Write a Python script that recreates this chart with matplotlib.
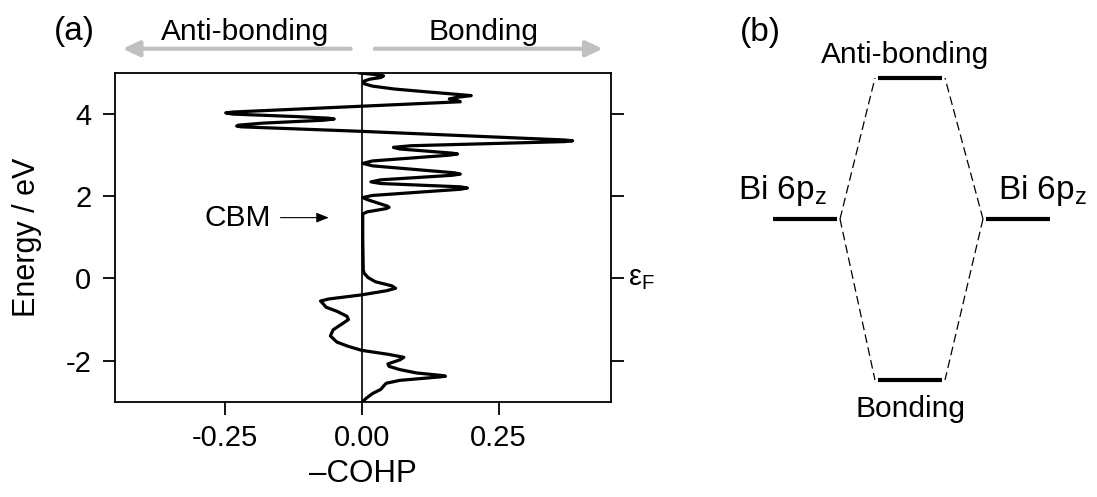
import numpy as np
import matplotlib.pyplot as plt

plt.rcParams['font.family'] = ['Liberation Sans', 'DejaVu Sans']
plt.rcParams['mathtext.fontset'] = 'custom'
plt.rcParams['mathtext.rm'] = 'Liberation Sans'
plt.rcParams['axes.unicode_minus'] = False

# -COHP of the Bi-Bi pz interaction, read top to bottom
energy = [5.00, 4.97, 4.93, 4.89, 4.85, 4.80, 4.74, 4.68, 4.61, 4.54, 4.49, 4.45,
          4.41, 4.37, 4.33, 4.30, 4.05, 4.03, 4.00, 3.94, 3.90, 3.88, 3.85, 3.78,
          3.73, 3.71, 3.69, 3.58, 3.37, 3.35, 3.33, 3.23, 3.19, 3.15, 3.05, 3.03,
          3.00, 2.86, 2.80, 2.74, 2.57, 2.54, 2.51, 2.40, 2.35, 2.31, 2.23, 2.20,
          2.17, 2.02, 1.97, 1.92, 1.76, 1.73, 1.70, 1.62, 1.57, 1.00, 0.20, 0.12,
          0.02, -0.08, -0.18, -0.24, -0.30, -0.40, -0.50, -0.55, -0.62, -0.70,
          -0.80, -0.92, -1.00, -1.10, -1.25, -1.40, -1.55, -1.65, -1.75, -1.85,
          -1.92, -1.98, -2.08, -2.14, -2.22, -2.30, -2.36, -2.38, -2.40, -2.48,
          -2.55, -2.62, -2.70, -2.80, -2.92, -3.00]
cohp = [-0.004, 0.020, 0.040, 0.035, 0.015, 0.004, 0.004, 0.020, 0.060, 0.120, 0.165, 0.200,
        0.175, 0.160, 0.175, 0.180, -0.235, -0.248, -0.235, -0.120, -0.060, -0.050, -0.070, -0.180,
        -0.225, -0.228, -0.220, 0.000, 0.370, 0.385, 0.370, 0.090, 0.058, 0.070, 0.165, 0.175,
        0.160, 0.020, 0.002, 0.020, 0.170, 0.180, 0.165, 0.035, 0.017, 0.035, 0.180, 0.193,
        0.180, 0.020, 0.002, 0.010, 0.047, 0.050, 0.045, 0.010, 0.002, 0.002, 0.003, 0.005,
        0.012, 0.025, 0.055, 0.062, 0.045, 0.000, -0.060, -0.075, -0.070, -0.065,
        -0.045, -0.027, -0.024, -0.035, -0.052, -0.057, -0.045, -0.025, 0.000, 0.050,
        0.077, 0.070, 0.048, 0.050, 0.070, 0.100, 0.145, 0.153, 0.140, 0.070,
        0.045, 0.040, 0.035, 0.020, 0.008, 0.002]

xticks = [-0.25, 0.0, 0.25]
xtick_labels = ['-0.25', '0.00', '0.25']
yticks = [-2, 0, 2, 4]
cbm_energy = 1.48

# MO diagram (b): left AO, right AO, anti-bonding MO, bonding MO
level_x0 = [773, 986, 878, 878]
level_x1 = [837, 1050, 942, 942]
level_y = [219, 219, 78, 380]
# dashed connectors: (from level, to level)
links = [(0, 2), (0, 3), (1, 2), (1, 3)]

fig = plt.figure(figsize=(10.97, 4.97), dpi=100)

######################################
# (a) COHP
ax = fig.add_axes([115/1097, 1 - 401.7/497, 496/1097, 328.7/497])
ax.axvline(0, color='k', lw=1.2, zorder=1)
ax.plot(cohp, energy, color='k', lw=2.3, solid_joinstyle='round', zorder=2)
ax.set_xlim(-0.45, 0.455)
ax.set_ylim(-3, 5)
ax.set_xticks(xticks)
ax.set_xticklabels(xtick_labels)
ax.set_yticks(yticks)
ax.tick_params(axis='y', left=True, right=True, direction='out', length=9, width=1.3,
               labelsize=21, pad=8)
ax.tick_params(axis='x', top=False, direction='out', length=9, width=1.3, labelsize=21, pad=7)
for s in ax.spines.values():
    s.set_linewidth(1.3)
ax.set_ylabel('Energy / eV', fontsize=22)
ax.yaxis.set_label_coords(-0.147, 0.5)
ax.set_xlabel('\u2013COHP', fontsize=22.5)
ax.xaxis.set_label_coords(0.5, -0.175)

ax.text(1.035, 0, '\u03b5$_\\mathregular{F}$', transform=ax.get_yaxis_transform(),
        fontsize=21, ha='left', va='center', clip_on=False)

# CBM marker
ax.annotate('', xy=(-0.06, cbm_energy), xytext=(-0.148, cbm_energy),
            arrowprops=dict(arrowstyle='-|>,head_length=0.75,head_width=0.3', color='k',
                            lw=0.8, mutation_scale=10, shrinkA=0, shrinkB=0))
ax.text(-0.166, cbm_energy, 'CBM', fontsize=21.5, ha='right', va='center')

# bonding / anti-bonding arrows above the plot
grey = '#c0c0c0'
ax.annotate('', xy=(-0.436, 5.59), xytext=(-0.02, 5.59), annotation_clip=False,
            arrowprops=dict(arrowstyle='-|>,head_length=1.0,head_width=0.47', color=grey,
                            lw=3, mutation_scale=10, shrinkA=0, shrinkB=0))
ax.annotate('', xy=(0.44, 5.59), xytext=(0.024, 5.59), annotation_clip=False,
            arrowprops=dict(arrowstyle='-|>,head_length=1.0,head_width=0.47', color=grey,
                            lw=3, mutation_scale=10, shrinkA=0, shrinkB=0))
ax.text(-0.212, 6.0, 'Anti-bonding', fontsize=21.5, ha='center', va='center', clip_on=False)
ax.text(0.223, 6.0, 'Bonding', fontsize=21.5, ha='center', va='center', clip_on=False)
ax.text(-0.524, 6.0, '(a)', fontsize=24, ha='center', va='center', clip_on=False)

######################################
# (b) MO diagram
ax2 = fig.add_axes([700/1097, 0, 397/1097, 1])
ax2.set_xlim(700, 1097)
ax2.set_ylim(497, 0)
ax2.axis('off')

for x0, x1, y in zip(level_x0, level_x1, level_y):
    ax2.plot([x0, x1], [y, y], color='k', lw=3, solid_capstyle='butt')

for a, b in links:
    if level_x1[a] < level_x0[b]:
        xa, xb = level_x1[a] + 3, level_x0[b] - 3
    else:
        xa, xb = level_x0[a] - 3, level_x1[b] + 3
    ax2.plot([xa, xb], [level_y[a], level_y[b]], color='k', lw=0.9, ls=(0, (7, 3.5)))

ax2.text(738, 199, 'Bi 6p$_\\mathregular{z}$', fontsize=24, ha='left', va='baseline')
ax2.text(998, 199, 'Bi 6p$_\\mathregular{z}$', fontsize=24, ha='left', va='baseline')
ax2.text(905, 55, 'Anti-bonding', fontsize=21.5, ha='center', va='center')
ax2.text(911, 409, 'Bonding', fontsize=21.5, ha='center', va='center')
ax2.text(760, 32, '(b)', fontsize=24, ha='center', va='center')

fig.savefig('out.png', dpi=100)
